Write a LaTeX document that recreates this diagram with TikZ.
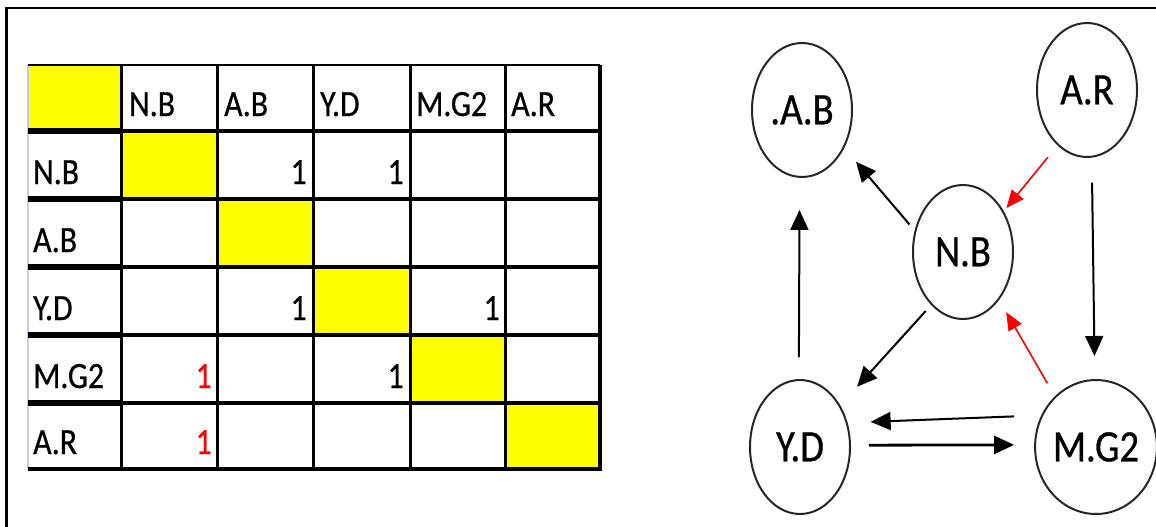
\documentclass[tikz,border=0pt]{standalone}
\usepackage{fontspec}
\setmainfont{Carlito}[FakeStretch=0.86,FakeBold=0.6]
\usetikzlibrary{arrows.meta,shapes.geometric}
\definecolor{cellyellow}{HTML}{FFFF00}
\definecolor{numred}{HTML}{FF0000}
\definecolor{gridgray}{HTML}{C8CCD8}
\begin{document}
\begin{tikzpicture}[x=1pt,y=-1pt,
  cell/.style={font=\fontsize{37}{42}\selectfont, inner sep=0pt},
  lbl/.style={cell, anchor=base west},
  num/.style={cell, anchor=base east},
  vert/.style={draw=black!85, line width=2pt, ellipse, minimum width=100pt, minimum height=134pt, inner sep=0pt, font=\fontsize{45}{50}\selectfont},
  arr/.style={-{Triangle[length=20pt,width=18pt]}, line width=2pt},
  redarr/.style={-{Triangle[length=18pt,width=15pt]}, line width=1.6pt, draw=numred, fill=numred},
]
\useasboundingbox (0,0) rectangle (1156,527);
% outer frame
\draw[line width=2.2pt] (6.5,527) -- (6.5,8) -- (1156,8);

% table fills
\fill[cellyellow] (28,65) rectangle (121,131);
\fill[cellyellow] (121,131) rectangle (217,199);
\fill[cellyellow] (217,199) rectangle (313,267);
\fill[cellyellow] (313,267) rectangle (410,335);
\fill[cellyellow] (410,335) rectangle (505,403);
\fill[cellyellow] (505,403) rectangle (600,469);

% grid
\draw[gridgray, line width=1.5pt] (28,65) -- (28,469);
\draw[line width=2.5pt] (28,65) -- (600,65);
\foreach \x in {121,217,313,410,505} \draw[line width=3pt] (\x,65) -- (\x,469);
\draw[line width=4pt] (600,65) -- (600,469);
\foreach \y in {131,199,267,335,403} {
  \draw[line width=3.2pt] (121,\y) -- (600,\y);
  \draw[line width=6.5pt] (28,\y) -- (121,\y);
}
\draw[line width=4pt] (28,469) -- (602,469);

% header texts
\node[lbl] (h1) at (129,116) {N.B};
\node[lbl] (h2) at (224,116) {A.B};
\node[lbl] (h3) at (320,116) {Y.D};
\node[lbl] (h4) at (416,116) {M.G2};
\node[lbl] (h5) at (511,116) {A.R};
% row labels
\node[lbl] (r1) at (33,184) {N.B};
\node[lbl] (r2) at (33,252) {A.B};
\node[lbl] (r3) at (33,320) {Y.D};
\node[lbl] (r4) at (33,388) {M.G2};
\node[lbl] (r5) at (33,454) {A.R};
% entries
\node[num] (n12) at (307,184) {1};
\node[num] (n13) at (404,184) {1};
\node[num] (n32) at (307,320) {1};
\node[num] (n34) at (500,320) {1};
\node[num, text=numred] (n41) at (212,388) {1};
\node[num] (n43) at (404,388) {1};
\node[num, text=numred] (n51) at (212,454) {1};

% graph
\node[vert] (ab) at (802,110) {.A.B};
\node[vert] (ar) at (1087,90) {A.R};
\node[vert] (nb) at (963,252) {N.B};
\node[vert] (yd) at (800,447) {Y.D};
\node[vert] (mg) at (1096,447) {M.G2};

\draw[arr, shorten <=8pt, shorten >=18pt] (nb.156) -- (ab.-42);
\draw[redarr, shorten <=15pt, shorten >=4pt] (ar.-118) -- (nb.45);
\draw[arr, shorten <=25pt, shorten >=23pt] (ar.-86) -- (mg.91);
\draw[arr, shorten <=22pt, shorten >=32pt] (yd.91) -- (ab.-92);
\draw[arr, shorten <=8pt, shorten >=25pt] (nb.-121) -- (yd.46);
\draw[redarr, shorten <=15pt, shorten >=14pt] (mg.129) -- (nb.-53);
\draw[arr, shorten <=27pt, shorten >=23pt] (mg.150) -- (yd.27);
\draw[arr, line width=2.8pt, shorten <=18pt, shorten >=20pt] (yd.2) -- (mg.178);
\end{tikzpicture}
\end{document}
